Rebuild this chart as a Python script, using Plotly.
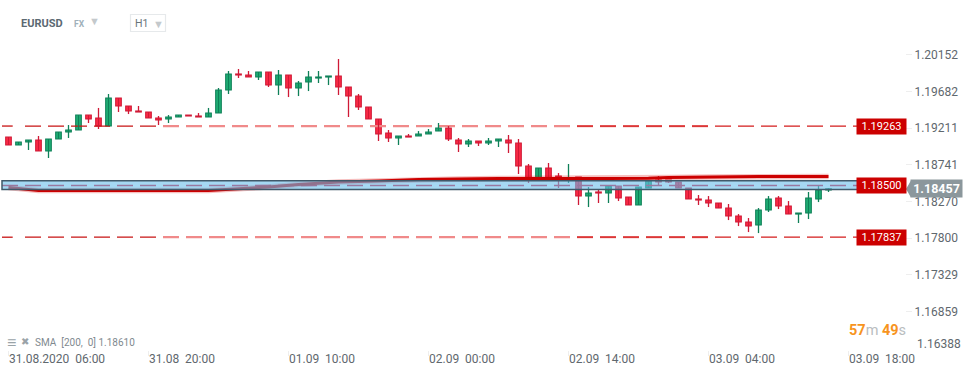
import pandas as pd
import plotly.graph_objects as go

opens = [1.19122,1.19020,1.19058,1.19084,1.18943,1.19097,1.19186,1.19212,1.19404,1.19366,
1.19263,1.19623,1.19520,1.19456,1.19443,1.19366,1.19353,1.19379,1.19404,1.19392,
1.19379,1.19430,1.19725,1.19931,1.19918,1.19892,1.19956,1.19789,1.19918,1.19751,
1.19828,1.19879,1.19892,1.19905,1.19764,1.19648,1.19507,1.19353,1.19174,1.19110,
1.19135,1.19135,1.19161,1.19199,1.19238,1.19084,1.19033,1.19071,1.19045,1.19071,
1.19084,1.19045,1.18750,1.18583,1.18725,1.18622,1.18583,1.18609,1.18365,1.18417,
1.18404,1.18494,1.18353,1.18250,1.18468,1.18571,1.18571,1.18545,1.18468,1.18327,
1.18314,1.18276,1.18211,1.18109,1.18032,1.17993,1.18186,1.18340,1.18237,1.18134,
1.18147,1.18327,1.18442]
highs = [1.19122,1.19058,1.19084,1.19135,1.19097,1.19186,1.19276,1.19404,1.19404,1.19495,
1.19674,1.19623,1.19520,1.19520,1.19443,1.19392,1.19404,1.19404,1.19404,1.19430,
1.19495,1.19751,1.19969,1.19995,1.19969,1.19956,1.19956,1.19982,1.19918,1.19841,
1.19969,1.19969,1.19905,1.20123,1.19764,1.19674,1.19507,1.19353,1.19212,1.19135,
1.19161,1.19199,1.19225,1.19302,1.19263,1.19110,1.19097,1.19071,1.19110,1.19097,
1.19148,1.19097,1.18776,1.18725,1.18789,1.18660,1.18776,1.18609,1.18481,1.18455,
1.18494,1.18494,1.18353,1.18481,1.18558,1.18622,1.18571,1.18545,1.18468,1.18378,
1.18365,1.18276,1.18263,1.18134,1.18083,1.18211,1.18365,1.18365,1.18301,1.18147,
1.18417,1.18506,1.18468]
lows = [1.19020,1.19020,1.18956,1.18943,1.18853,1.19097,1.19110,1.19212,1.19302,1.19225,
1.19263,1.19443,1.19417,1.19443,1.19366,1.19276,1.19302,1.19379,1.19392,1.19379,
1.19379,1.19430,1.19674,1.19879,1.19892,1.19854,1.19764,1.19661,1.19635,1.19648,
1.19712,1.19815,1.19789,1.19661,1.19379,1.19469,1.19353,1.19071,1.19058,1.19020,
1.19122,1.19135,1.19161,1.19199,1.19071,1.18930,1.18994,1.19007,1.19020,1.18994,
1.18917,1.18648,1.18532,1.18583,1.18571,1.18468,1.18532,1.18250,1.18224,1.18276,
1.18276,1.18301,1.18250,1.18250,1.18468,1.18506,1.18532,1.18468,1.18327,1.18250,
1.18224,1.18211,1.18057,1.17980,1.17903,1.17890,1.18160,1.18198,1.18134,1.18019,
1.18070,1.18288,1.18417]
closes = [1.19020,1.19058,1.19084,1.18943,1.19097,1.19186,1.19212,1.19404,1.19353,1.19263,
1.19623,1.19520,1.19456,1.19443,1.19366,1.19340,1.19379,1.19404,1.19392,1.19379,
1.19430,1.19725,1.19931,1.19918,1.19892,1.19956,1.19789,1.19918,1.19751,1.19815,
1.19892,1.19892,1.19905,1.19764,1.19648,1.19507,1.19353,1.19161,1.19110,1.19135,
1.19122,1.19161,1.19186,1.19238,1.19097,1.19033,1.19071,1.19045,1.19071,1.19097,
1.19045,1.18750,1.18583,1.18725,1.18596,1.18583,1.18596,1.18365,1.18404,1.18404,
1.18494,1.18340,1.18250,1.18481,1.18558,1.18545,1.18545,1.18468,1.18327,1.18314,
1.18276,1.18211,1.18109,1.18032,1.17980,1.18186,1.18327,1.18237,1.18134,1.18147,
1.18340,1.18442,1.18457]

sma_index = [0,3,20,22,26,29,33,37,41,45,49,60,64,66,70,75,82]
sma_values = [1.18475,1.18436,1.18436,1.18449,1.18481,1.18513,1.18545,1.18558,1.18577,1.18583,
              1.18590,1.18590,1.18592,1.18603,1.18610,1.18615,1.18617]

level_upper, level_mid, level_lower = 1.19263, 1.18500, 1.17837
band_top, band_bottom = 1.18560, 1.18450
current_price = 1.18457
y_ticks = [1.20152,1.19682,1.19211,1.18741,1.18270,1.17800,1.17329,1.16859]
y_tick_clamped = 1.16388
x_tick_index = [0,14,28,42,56,70,84]
x_tick_labels = ["31.08.2020\u00a0\u00a006:00","31.08\u00a0\u00a020:00","01.09\u00a0\u00a010:00",
                 "02.09\u00a0\u00a000:00","02.09\u00a0\u00a014:00","03.09\u00a0\u00a004:00","03.09\u00a0\u00a018:00"]

W, H, PW, PH = 974, 375, 905, 350
FONT = "Roboto, sans-serif"
RED_LINE, RED_FILL = "#cf1a36", "#ff2d48"
GREEN_LINE, GREEN_FILL = "#0f8058", "#22b277"
START = pd.Timestamp("2020-08-31 06:00")
def t_px(px):
    return START + pd.Timedelta(hours=(px - 8.5) / 10)
def fx(px): return px / PW
def fy(py): return 1 - py / PH

dates = pd.date_range(START, periods=len(opens), freq="h")
fig = go.Figure()

def seg(x0, x1, y, color, width, dash):
    fig.add_trace(go.Scatter(x=[t_px(x0), t_px(x1)], y=[y, y], mode="lines", hoverinfo="skip",
                             line=dict(color=color, width=width, dash=dash)))

for lv in (level_upper, level_lower):
    seg(2, 12.7, lv, "#c81414", 1.3, "solid")
    seg(25, 163, lv, "#c81414", 1.3, "16px,7px")
    seg(163, 715, lv, "#f08a8a", 2.2, "16px,7px")
    seg(577, 858, lv, "#d41c1c", 1.3, "16px,7px")

for rising, line_c, fill_c in ((True, GREEN_LINE, GREEN_FILL), (False, RED_LINE, RED_FILL)):
    idx = [i for i in range(len(opens)) if (closes[i] >= opens[i]) == rising]
    wx, wy = [], []
    for i in idx:
        wx += [dates[i], dates[i], None]
        wy += [lows[i], highs[i], None]
    fig.add_trace(go.Scatter(x=wx, y=wy, mode="lines", hoverinfo="skip", line=dict(color=line_c, width=1.3)))
    fig.add_trace(go.Bar(
        x=[dates[i] for i in idx],
        y=[abs(closes[i] - opens[i]) for i in idx],
        base=[min(opens[i], closes[i]) for i in idx],
        width=0.56 * 3600000, hoverinfo="skip",
        marker=dict(color=fill_c, line=dict(color=line_c, width=1.1)),
    ))

seg(2, 858, level_mid, "#e01030", 1.4, "16px,7px")
fig.add_trace(go.Scatter(x=[dates[i] for i in sma_index], y=sma_values, mode="lines", hoverinfo="skip",
                         line=dict(color="rgba(220,0,0,0.25)", width=5.5)))
fig.add_trace(go.Scatter(x=[dates[i] for i in sma_index], y=sma_values, mode="lines", hoverinfo="skip",
                         line=dict(color="#cc0000", width=3)))

fig.add_shape(type="rect", x0=t_px(2), x1=t_px(859), y0=band_bottom, y1=band_top, layer="above",
              fillcolor="rgba(105,190,235,0.6)", line=dict(color="#40596a", width=1.5))
fig.add_shape(type="rect", xref="paper", yref="paper", x0=fx(130.5), x1=fx(165.5), y0=fy(31.5), y1=fy(14.5),
              line=dict(color="#e6e9eb", width=1.2))
fig.add_shape(type="path", xref="paper", yref="y", xsizemode="pixel", ysizemode="pixel",
              xanchor=1, yanchor=current_price, path="M 1 0 L 6 -8.5 L 6 8.5 Z",
              fillcolor="#8b979c", line=dict(width=0), layer="above")

anns = []
def note(px, py, text, size, color, anchor="left", **kw):
    anns.append(dict(x=fx(px), y=fy(py), xref="paper", yref="paper", text=text, showarrow=False,
                     xanchor=anchor, yanchor="middle", font=dict(family=FONT, size=size, color=color),
                     borderpad=0, **kw))

note(20, 23, "<b>EURUSD</b>", 11, "#5c6972")
note(73, 24, "<b>FX</b>", 8.5, "#a0b0ba")
note(94, 22, "▼", 11, "#c4c9cc", anchor="center")
note(134, 23.5, "H1", 10.5, "#69747b")
note(158, 24, "▼", 11, "#c4c9cc", anchor="center")
note(6, 342, "≡", 16, "#9aa3a8")
note(20, 341.5, "✖", 10, "#9aa3a8")
note(34, 342.5, "SMA\u00a0\u00a0[200,\u00a0\u00a00]\u00a01.18610", 10, "#7f8a90")
note(848, 330, '<span style="color:#f7941d"><b>57</b></span><span style="color:#b9bdc0">m</span>'
     '\u00a0<span style="color:#f7941d"><b>49</b></span><span style="color:#b9bdc0">s</span>', 14.5, "#b9bdc0")
note(916.5, 344, f"{y_tick_clamped:.5f}", 12, "#5f686e")

for i, label in zip(x_tick_index, x_tick_labels):
    anns.append(dict(x=START + pd.Timedelta(hours=i), y=fy(358.5), xref="x", yref="paper", text=label,
                     showarrow=False, xanchor="left", yanchor="middle", xshift=-1, borderpad=0,
                     font=dict(family=FONT, size=12, color="#5f686e")))

for lv in (level_upper, level_mid, level_lower):
    anns.append(dict(x=fx(881.5), y=lv, xref="paper", yref="y", text=f"{lv:.5f}", showarrow=False,
                     xanchor="center", yanchor="middle", width=49, height=15, bgcolor="#cc0000",
                     borderpad=0, font=dict(family=FONT, size=11, color="#ffffff")))
anns.append(dict(x=fx(936.5), y=current_price, xref="paper", yref="y", text=f"<b>{current_price:.5f}</b>",
                 showarrow=False, xanchor="center", yanchor="middle", width=51, height=17, bgcolor="#8b979c",
                 borderpad=0, font=dict(family=FONT, size=12.5, color="#ffffff")))

# the source's price ticks sit about 2px above where its level lines would place them
TICK_OFFSET = 0.00026
fig.update_layout(
    width=W, height=H, margin=dict(l=0, r=W - PW, t=0, b=H - PH), autosize=False,
    paper_bgcolor="#ffffff", plot_bgcolor="#ffffff", showlegend=False, annotations=anns, barmode="overlay",
    xaxis=dict(type="date", range=[t_px(0), t_px(PW)], showgrid=False,
               zeroline=False, showline=False, ticks="outside", ticklen=5, tickcolor="#eeeeee",
               tickmode="array", tickvals=[START + pd.Timedelta(hours=i) for i in x_tick_index],
               showticklabels=False),
    yaxis=dict(side="right", range=[1.16390, 1.20880], showgrid=False, zeroline=False, showline=False,
               ticks="outside", ticklen=6, tickcolor="#eeeeee", tickmode="array",
               tickvals=[v + TICK_OFFSET for v in y_ticks],
               ticktext=[f"{v:.5f}" for v in y_ticks], tickfont=dict(family=FONT, size=12, color="#5f686e")),
)
fig.write_html("out.html", config=dict(displayModeBar=False),
               post_script="document.body.style.margin='0';document.documentElement.style.overflow='hidden';")
